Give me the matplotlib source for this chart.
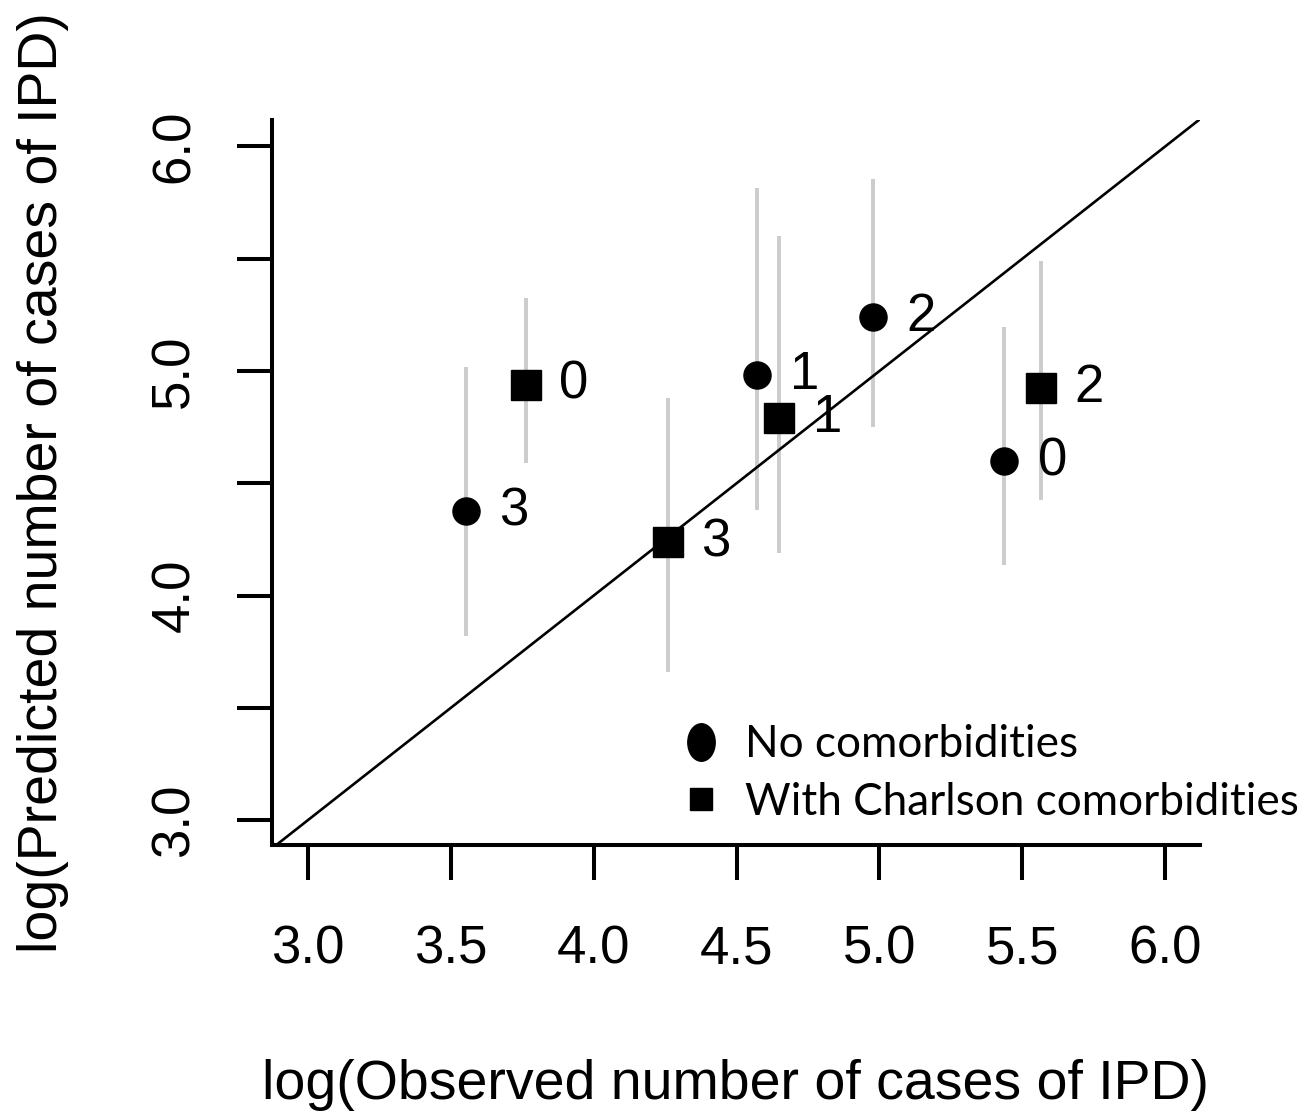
import matplotlib
matplotlib.use("Agg")
import matplotlib.pyplot as plt
from matplotlib.lines import Line2D
from matplotlib.path import Path
from matplotlib.transforms import Affine2D
from matplotlib.ticker import MultipleLocator, FixedLocator

# ---- data ----
circ_x = [3.552, 4.570, 4.976, 5.437]
circ_y = [4.376, 4.982, 5.240, 4.599]
circ_lo = [3.82, 4.38, 4.75, 4.136]
circ_hi = [5.02, 5.815, 5.855, 5.196]
circ_lab = ["3", "1", "2", "0"]

sq_x = [3.762, 4.259, 4.650, 5.566]
sq_y = [4.938, 4.238, 4.791, 4.924]
sq_lo = [4.59, 3.66, 4.19, 4.425]
sq_hi = [5.325, 4.88, 5.60, 5.49]
sq_lab = ["0", "3", "1", "2"]

x_ticks = [3.0, 3.5, 4.0, 4.5, 5.0, 5.5, 6.0]
y_label_ticks = [3.0, 4.0, 5.0, 6.0]
legend_labels = ["No comorbidities", "With Charlson comorbidities"]

plt.rcParams["font.family"] = ["Liberation Sans", "DejaVu Sans"]

fig = plt.figure(figsize=(13.07, 11.11), dpi=100)
ax = fig.add_axes([272 / 1307, 1 - 845 / 1111, 928 / 1307, 725 / 1111])
ax.set_xlim(2.874, 6.122)
ax.set_ylim(2.889, 6.118)

grey = "#cccccc"
ax.vlines(circ_x, circ_lo, circ_hi, colors=grey, lw=2.8, zorder=1)
ax.vlines(sq_x, sq_lo, sq_hi, colors=grey, lw=2.8, zorder=1)
ax.axline((3.0, 3.0), slope=1, color="black", lw=1.9, zorder=2)

ax.plot(circ_x, circ_y, "o", color="black", ms=19.5, zorder=3)
ax.plot(sq_x, sq_y, "s", color="black", ms=21.5, zorder=3)

for x, y, t in zip(circ_x, circ_y, circ_lab):
    ax.annotate(t, (x, y), xytext=(24, 0), textcoords="offset points",
                ha="left", va="center", fontsize=38)
for x, y, t in zip(sq_x, sq_y, sq_lab):
    ax.annotate(t, (x, y), xytext=(24, 0), textcoords="offset points",
                ha="left", va="center", fontsize=38)

# axes styling (R-like L box)
for s in ["top", "right"]:
    ax.spines[s].set_visible(False)
for s in ["left", "bottom"]:
    ax.spines[s].set_linewidth(2.9)

ax.xaxis.set_major_locator(FixedLocator(x_ticks))
ax.set_xticklabels([f"{v:.1f}" for v in x_ticks])
ax.yaxis.set_major_locator(FixedLocator(y_label_ticks))
ax.set_yticklabels([f"{v:.1f}" for v in y_label_ticks], rotation=90, va="center")
ax.yaxis.set_minor_locator(MultipleLocator(0.5))

ax.tick_params(axis="both", which="both", direction="out", length=25, width=2.9, labelsize=38)
ax.tick_params(axis="x", pad=32)
ax.tick_params(axis="y", pad=27)

ax.set_xlabel("log(Observed number of cases of IPD)", fontsize=40, labelpad=61)
ax.set_ylabel("log(Predicted number of cases of IPD)", fontsize=40, labelpad=58)

ellipse = Path.unit_circle().transformed(Affine2D().scale(0.73, 1.0))
handles = [
    Line2D([], [], marker=ellipse, ls="none", color="black", ms=27),
    Line2D([], [], marker="s", ls="none", color="black", ms=16),
]
leg = ax.legend(handles, legend_labels, loc="upper left",
                bbox_to_anchor=(681 / 1307, 1 - 724 / 1111), bbox_transform=fig.transFigure,
                frameon=False, handlelength=0.9, handletextpad=0.55, labelspacing=0.38,
                borderaxespad=0, borderpad=0,
                prop={"family": "Lato", "size": 31.8})

fig.savefig("out.png", dpi=100)
